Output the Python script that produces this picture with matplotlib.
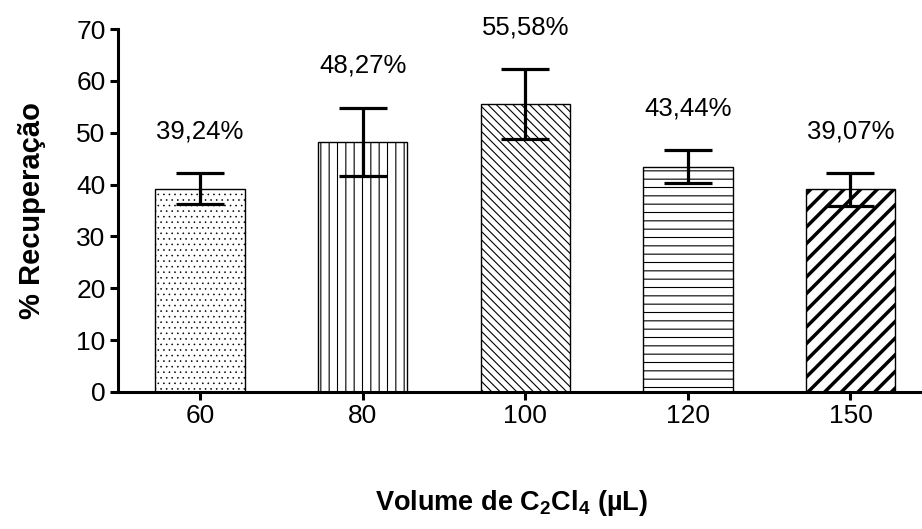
import numpy as np
import matplotlib
matplotlib.use("Agg")
import matplotlib.pyplot as plt

plt.rcParams['font.family'] = ['Liberation Sans', 'DejaVu Sans']
plt.rcParams['mathtext.fontset'] = 'custom'
plt.rcParams['mathtext.rm'] = 'Liberation Sans'
plt.rcParams['mathtext.bf'] = 'Liberation Sans:bold'

# data
volumes = ['60', '80', '100', '120', '150']
recovery = [39.24, 48.27, 55.58, 43.44, 39.07]
errors = [3.0, 6.6, 6.7, 3.2, 3.1]
labels = ['39,24%', '48,27%', '55,58%', '43,44%', '39,07%']
hatches = ['...', '||', '\\\\\\\\', '--', '//']
hatch_lw = [0.4, 0.8, 0.8, 0.8, 2.5]

fig = plt.figure(figsize=(9.22, 5.29), dpi=100)
ax = fig.add_axes([0.128, 0.259, 0.872, 0.686])

x = np.arange(len(volumes))
bars = ax.bar(x, recovery, width=0.55, color='white', edgecolor='black',
              linewidth=1.0, zorder=2)
for b, h, lw in zip(bars, hatches, hatch_lw):
    b.set_hatch(h)
    if hasattr(b, 'set_hatch_linewidth'):
        b.set_hatch_linewidth(lw)

ax.errorbar(x, recovery, yerr=errors, fmt='none', ecolor='black',
            elinewidth=2.3, capsize=17, capthick=2.3, zorder=3)

for i in range(len(x)):
    ax.annotate(labels[i], xy=(x[i], recovery[i] + errors[i]),
                xytext=(0, 30), textcoords='offset points',
                ha='center', va='center', fontsize=18.5)

ax.set_xlim(-0.505, 4.44)
ax.set_ylim(0, 70)
ax.set_yticks(np.arange(0, 71, 10))
ax.set_xticks(x)
ax.set_xticklabels(volumes)

for s in ['top', 'right']:
    ax.spines[s].set_visible(False)
for s in ['left', 'bottom']:
    ax.spines[s].set_linewidth(2.2)
ax.tick_params(axis='both', width=2.2, length=6, labelsize=19, pad=3)

ax.set_ylabel('% Recuperação', fontsize=21, fontweight='bold', labelpad=22)
ax.set_xlabel(r'Volume de C$_\mathbf{2}$Cl$_\mathbf{4}$ (µL)', fontsize=19.5,
              fontweight='bold')
ax.xaxis.set_label_coords(0.49, -0.265)

fig.savefig('out.png', dpi=100)
